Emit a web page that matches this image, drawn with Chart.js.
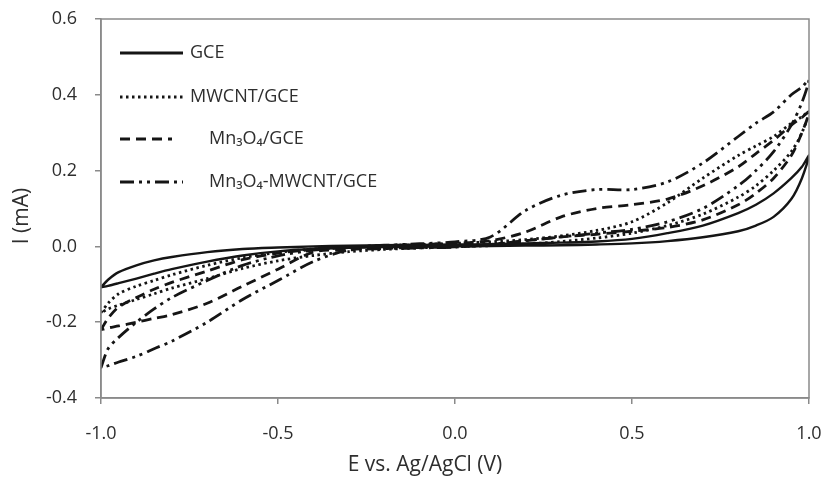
<!DOCTYPE html>
<html>
<head>
<meta charset="utf-8">
<script src="https://cdn.jsdelivr.net/npm/chart.js@4.4.1/dist/chart.umd.min.js"></script>
<style>
  html,body{margin:0;padding:0;background:#fff}
  #wrap{width:827px;height:491px;position:relative}
</style>
</head>
<body>
<div id="wrap"><canvas id="cv"></canvas></div>
<script>
// ── DATA ────────────────────────────────────────────────────────────────
// potential grid (V); forward scan goes up this list, reverse scan comes back down
const potential = [-1.0,-0.98,-0.95,-0.9,-0.85,-0.8,-0.7,-0.6,-0.5,-0.4,-0.3,-0.2,-0.1,0.0,0.1,0.2,0.3,0.4,0.5,0.6,0.7,0.8,0.85,0.9,0.95,0.98,1.0];

// current (mA) on the forward (upper) branch and the reverse (lower) branch, same order as potential
const gceFwd   = [-0.108,-0.088,-0.068,-0.050,-0.037,-0.028,-0.015,-0.007,-0.003,0.000,0.002,0.003,0.004,0.005,0.006,0.008,0.010,0.013,0.020,0.035,0.055,0.088,0.110,0.140,0.180,0.210,0.240];
const gceRev   = [-0.108,-0.104,-0.097,-0.085,-0.072,-0.060,-0.040,-0.024,-0.013,-0.007,-0.004,-0.002,-0.001,0.000,0.001,0.002,0.003,0.005,0.008,0.014,0.024,0.040,0.055,0.078,0.125,0.180,0.240];

const mwcntFwd = [-0.175,-0.150,-0.125,-0.105,-0.090,-0.075,-0.050,-0.030,-0.016,-0.007,-0.002,0.002,0.005,0.008,0.012,0.018,0.028,0.042,0.065,0.115,0.180,0.240,0.265,0.290,0.325,0.342,0.355];
const mwcntRev = [-0.175,-0.165,-0.155,-0.140,-0.125,-0.110,-0.085,-0.058,-0.038,-0.024,-0.014,-0.008,-0.004,-0.001,0.002,0.006,0.013,0.022,0.035,0.055,0.085,0.130,0.160,0.200,0.250,0.300,0.355];

const mnoFwd   = [-0.220,-0.190,-0.160,-0.135,-0.113,-0.095,-0.065,-0.035,-0.018,-0.008,-0.002,0.002,0.005,0.008,0.015,0.038,0.078,0.100,0.110,0.125,0.160,0.210,0.245,0.280,0.320,0.340,0.355];
const mnoRev   = [-0.220,-0.215,-0.210,-0.200,-0.190,-0.180,-0.150,-0.105,-0.060,-0.015,-0.008,-0.005,-0.003,-0.001,0.005,0.015,0.025,0.032,0.040,0.050,0.070,0.110,0.140,0.180,0.240,0.300,0.355];

const mnoCntFwd = [-0.320,-0.270,-0.240,-0.200,-0.165,-0.135,-0.090,-0.050,-0.025,-0.010,-0.002,0.003,0.007,0.012,0.025,0.095,0.135,0.150,0.150,0.170,0.220,0.290,0.325,0.355,0.400,0.420,0.440];
const mnoCntRev = [-0.320,-0.315,-0.305,-0.290,-0.270,-0.250,-0.200,-0.140,-0.090,-0.040,-0.010,-0.006,-0.004,-0.002,0.005,0.015,0.025,0.035,0.045,0.065,0.100,0.160,0.200,0.250,0.320,0.380,0.440];

const seriesLabels = ['GCE', 'MWCNT/GCE', 'Mn\u2083O\u2084/GCE', 'Mn\u2083O\u2084-MWCNT/GCE'];
const xTicks = [-1.0, -0.5, 0.0, 0.5, 1.0];
const yTicks = [-0.4, -0.2, 0.0, 0.2, 0.4, 0.6];
const xTitle = 'E vs. Ag/AgCl (V)';
const yTitle = 'I (mA)';

// ── BUILD ───────────────────────────────────────────────────────────────
function loop(fwd, rev) {
  const up = potential.map((e,i) => ({x:e, y:fwd[i]}));
  const down = potential.map((e,i) => ({x:e, y:rev[i]})).reverse().slice(1);
  return up.concat(down);
}

const ink = '#151515';
const dashes = [[], [2.5,3.5], [10,6], [14,5,3,5,3,5]];
const curves = [[gceFwd,gceRev],[mwcntFwd,mwcntRev],[mnoFwd,mnoRev],[mnoCntFwd,mnoCntRev]];

const datasets = curves.map((c,i) => ({
  label: seriesLabels[i],
  data: loop(c[0], c[1]),
  showLine: true,
  borderColor: ink,
  borderWidth: i===0 ? 2.4 : 2.8,
  borderDash: dashes[i],
  pointRadius: 0,
  tension: 0.3,
  fill: false
}));

const textFont = "'Open Sans', 'Noto Sans', sans-serif";
const textColor = '#2e2e2e';

// frame + legend + axis titles
const decor = {
  id: 'decor',
  afterDraw(chart) {
    const {ctx, chartArea:a} = chart;
    ctx.save();
    ctx.strokeStyle = '#8a8a8a';
    ctx.lineWidth = 1.5;
    ctx.strokeRect(a.left, a.top, a.right - a.left, a.bottom - a.top);

    // legend inside the plot
    const rows = [53, 97, 139, 182];
    const textX = [190, 190, 209, 209];
    const sampleEnd = [183, 183, 172, 183];
    ctx.font = '18px ' + textFont;
    ctx.textBaseline = 'middle';
    ctx.textAlign = 'left';
    chart.data.datasets.forEach((ds,i) => {
      ctx.beginPath();
      ctx.setLineDash(ds.borderDash);
      ctx.lineWidth = ds.borderWidth + 0.4;
      ctx.strokeStyle = ink;
      ctx.moveTo(120, rows[i]);
      ctx.lineTo(sampleEnd[i], rows[i]);
      ctx.stroke();
      ctx.setLineDash([]);
      ctx.fillStyle = textColor;
      ctx.fillText(ds.label, textX[i], rows[i]);
    });

    // axis titles
    ctx.fillStyle = textColor;
    ctx.font = '21px ' + textFont;
    ctx.textAlign = 'center';
    ctx.fillText(xTitle, 425, 465);
    ctx.translate(22, 216);
    ctx.rotate(-Math.PI/2);
    ctx.fillText(yTitle, 0, 0);
    ctx.restore();
  }
};

const tickFont = {family: textFont, size: 18};

new Chart(document.getElementById('cv'), {
  type: 'scatter',
  data: {datasets},
  options: {
    responsive: true,
    maintainAspectRatio: false,
    animation: false,
    layout: {padding: {left: 0, right: 18, top: 19, bottom: 0}},
    plugins: {legend: {display: false}, tooltip: {enabled: false}},
    scales: {
      x: {
        type: 'linear', min: -1, max: 1,
        afterBuildTicks: s => { s.ticks = xTicks.map(v => ({value: v})); },
        afterFit: s => { s.height = 93; s.paddingLeft = 0; s.paddingRight = 0; },
        ticks: {color: textColor, font: tickFont, padding: 19, maxRotation: 0,
                callback: v => v.toFixed(1)},
        grid: {drawOnChartArea: false, drawTicks: true, tickLength: 6, color: '#8a8a8a', lineWidth: 1.5},
        border: {display: true, color: '#8a8a8a', width: 1.5}
      },
      y: {
        type: 'linear', min: -0.4, max: 0.6,
        afterBuildTicks: s => { s.ticks = yTicks.map(v => ({value: v})); },
        afterFit: s => { s.width = 101; s.paddingTop = 0; s.paddingBottom = 0; },
        ticks: {color: textColor, font: tickFont, padding: 18,
                callback: v => v.toFixed(1)},
        grid: {drawOnChartArea: false, drawTicks: true, tickLength: 6, color: '#8a8a8a', lineWidth: 1.5},
        border: {display: true, color: '#8a8a8a', width: 1.5}
      }
    }
  },
  plugins: [decor]
});
</script>
</body>
</html>
